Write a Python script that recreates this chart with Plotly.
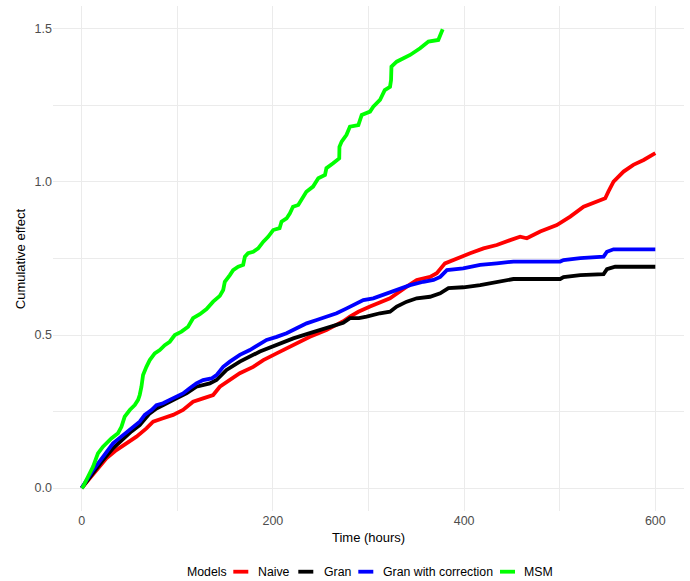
import plotly.graph_objects as go

# ---------------- data ----------------
naive_t = [0, 15.4, 25.9, 36.3, 46.8, 57.3, 67.7, 74.7, 85.1, 95.6, 106, 116.5, 127, 137.5, 144.5,
           151.5, 165.4, 179.4, 190, 203.9, 221.3, 238.7, 256, 259.7, 273.6, 280.6, 289.4, 301.6,
           322.5, 340, 350.5, 364.4, 371.4, 380, 392.4, 406.3, 420.3, 434.2, 448.2, 458.6, 465.6,
           479.6, 497, 511, 525, 539, 547.6, 551, 556.3, 566.8, 577, 587.8, 600]
naive_y = [0, 0.059, 0.097, 0.124, 0.146, 0.168, 0.195, 0.217, 0.228, 0.239, 0.255, 0.282, 0.293,
           0.304, 0.331, 0.347, 0.375, 0.396, 0.418, 0.44, 0.467, 0.494, 0.516, 0.522, 0.545, 0.56,
           0.576, 0.593, 0.62, 0.658, 0.68, 0.69, 0.702, 0.734, 0.751, 0.767, 0.783, 0.794, 0.81,
           0.821, 0.816, 0.838, 0.859, 0.887, 0.919, 0.936, 0.947, 0.969, 1.001, 1.034, 1.056,
           1.072, 1.094]

gran_t = [0, 11.9, 22.3, 32.8, 43.3, 52, 60.7, 71.2, 78.2, 85.1, 99.2, 110, 120, 134, 141, 151.5,
          165.4, 186.4, 203.9, 221.3, 238.7, 259.7, 273.6, 280.6, 290, 298, 312, 322.5, 329.5, 340,
          350.5, 364.4, 375, 383.6, 399.3, 416.8, 434.2, 451.6, 500.5, 504, 521.5, 545.9, 549.4,
          558, 600]
gran_y = [0, 0.05, 0.092, 0.13, 0.162, 0.185, 0.206, 0.244, 0.26, 0.27, 0.293, 0.31, 0.331, 0.342,
          0.353, 0.386, 0.413, 0.446, 0.467, 0.489, 0.506, 0.528, 0.54, 0.555, 0.555, 0.56, 0.571,
          0.576, 0.593, 0.609, 0.62, 0.625, 0.636, 0.653, 0.656, 0.663, 0.674, 0.683, 0.683, 0.689,
          0.696, 0.699, 0.715, 0.723, 0.723]

granc_t = [0, 11.9, 22.3, 32.8, 43.3, 52, 60.7, 66, 73, 78.2, 85.1, 92.1, 99.2, 106, 113, 120, 127,
           135.8, 141, 148, 155, 165.4, 175.9, 186.4, 193.4, 203.9, 214.3, 224.8, 235.3, 245.8,
           256.2, 266.7, 277.2, 289.4, 294.6, 305, 315.5, 329.5, 343.5, 357.4, 368, 375, 382, 399,
           416.8, 434.2, 451.6, 500.5, 504, 521.5, 545.9, 549.4, 556.3, 600]
granc_y = [0, 0.059, 0.102, 0.146, 0.173, 0.195, 0.217, 0.239, 0.255, 0.271, 0.277, 0.288, 0.298,
           0.309, 0.326, 0.342, 0.353, 0.358, 0.369, 0.396, 0.413, 0.435, 0.451, 0.473, 0.484,
           0.494, 0.506, 0.522, 0.538, 0.549, 0.56, 0.571, 0.587, 0.606, 0.614, 0.62, 0.631, 0.647,
           0.663, 0.674, 0.68, 0.69, 0.712, 0.718, 0.729, 0.734, 0.74, 0.74, 0.745, 0.751, 0.756,
           0.772, 0.78, 0.78]

msm_t = [0, 1.4, 6.6, 11.9, 17, 22.3, 31, 38, 41.6, 45, 50.3, 55.5, 59, 60.7, 62.5, 64.2, 67.7,
         71.2, 76.4, 81.7, 86.9, 92.1, 97.4, 104.4, 111.3, 116.5, 123.6, 130.6, 137.5, 144.5, 148,
         149.7, 155, 158.4, 163.7, 168.9, 170.7, 174, 179.4, 184.6, 190, 195, 200.3, 207, 209,
         214.3, 217.8, 221, 226.5, 230, 235, 242, 247.5, 254.5, 256, 263, 269.4, 269.6, 271.9,
         277, 280.6, 289.4, 292.9, 301.6, 305, 312, 317, 322.5, 323.6, 324, 329.5, 343.5, 354,
         362.7, 373, 377.6]
msm_y = [0, 0.004, 0.037, 0.07, 0.113, 0.135, 0.162, 0.179, 0.2, 0.233, 0.255, 0.271, 0.288, 0.304,
         0.331, 0.369, 0.396, 0.418, 0.44, 0.451, 0.467, 0.478, 0.5, 0.511, 0.527, 0.555, 0.568,
         0.585, 0.609, 0.628, 0.647, 0.674, 0.696, 0.712, 0.723, 0.729, 0.756, 0.767, 0.772, 0.783,
         0.805, 0.821, 0.843, 0.849, 0.87, 0.881, 0.898, 0.919, 0.925, 0.941, 0.968, 0.985, 1.012,
         1.023, 1.045, 1.061, 1.077, 1.115, 1.132, 1.154, 1.181, 1.186, 1.219, 1.23, 1.246, 1.268,
         1.30, 1.311, 1.333, 1.377, 1.393, 1.415, 1.437, 1.459, 1.464, 1.499]

model_names = ["Naive", "Gran", "Gran with correction", "MSM"]
model_colors = ["#FF0000", "#000000", "#0000FF", "#00FF00"]
x_ticks = [0, 200, 400, 600]
y_ticks = [0.0, 0.5, 1.0, 1.5]
y_tick_labels = ["0.0", "0.5", "1.0", "1.5"]

series = [(naive_t, naive_y), (gran_t, gran_y), (granc_t, granc_y), (msm_t, msm_y)]

# ---------------- figure ----------------
W, H = 690, 581
L, R, T, B = 53, 6, 6, 70
FONT = "Liberation Sans, Arial, sans-serif"

fig = go.Figure()
for (t, y), name, col in zip(series, model_names, model_colors):
    fig.add_trace(go.Scatter(x=t, y=y, mode="lines", name=name,
                             line=dict(color=col, width=3.8), showlegend=False))

grid = "#EBEBEB"
fig.update_layout(
    width=W, height=H,
    margin=dict(l=L, r=R, t=T, b=B, pad=0),
    paper_bgcolor="white", plot_bgcolor="white",
    font=dict(family=FONT, size=12.5, color="#4D4D4D"),
    showlegend=False,
    xaxis=dict(range=[-30, 630], tickvals=x_ticks, ticktext=[str(v) for v in x_ticks],
               showgrid=True, gridcolor=grid, gridwidth=1.1, zeroline=False, showline=False,
               ticks="", tickfont=dict(size=12.5, color="#4D4D4D"),
               minor=dict(tickvals=[100, 300, 500], showgrid=True, gridcolor=grid, gridwidth=0.6)),
    yaxis=dict(range=[-0.075, 1.575], tickvals=y_ticks, ticktext=y_tick_labels,
               showgrid=True, gridcolor=grid, gridwidth=1.1, zeroline=False, showline=False,
               ticks="", tickfont=dict(size=12.5, color="#4D4D4D"),
               minor=dict(tickvals=[0.25, 0.75, 1.25], showgrid=True, gridcolor=grid, gridwidth=0.6)),
)

pw, ph = W - L - R, H - T - B


def px2paper(px, py):
    return (px - L) / pw, (H - B - py) / ph


annotations = []
shapes = []

# axis titles
ax, ay = px2paper(368.5, 537.5)
annotations.append(dict(text="Time (hours)", x=ax, y=ay, xref="paper", yref="paper",
                        xanchor="center", yanchor="middle", showarrow=False,
                        font=dict(size=13, color="#000000", family=FONT)))
ax, ay = px2paper(20.7, 258.5)
annotations.append(dict(text="Cumulative effect", x=ax, y=ay, xref="paper", yref="paper",
                        xanchor="center", yanchor="middle", showarrow=False, textangle=-90,
                        font=dict(size=13, color="#000000", family=FONT)))

# legend (manual, ggplot-style bottom legend)
leg_y = 571.7
tx, ty = px2paper(184.5, leg_y)
annotations.append(dict(text="Models", x=tx, y=ty, xref="paper", yref="paper",
                        xanchor="left", yanchor="middle", showarrow=False,
                        font=dict(size=12.3, color="#000000", family=FONT)))
key_x = [233.3, 298.3, 358.3, 500]
text_x = [256, 321.5, 380.5, 522.3]
for kx, txx, name, col in zip(key_x, text_x, model_names, model_colors):
    x0, y0 = px2paper(kx, leg_y)
    x1, _ = px2paper(kx + 15, leg_y)
    shapes.append(dict(type="line", xref="paper", yref="paper", x0=x0, x1=x1, y0=y0, y1=y0,
                       line=dict(color=col, width=3.8)))
    tx, ty = px2paper(txx, leg_y)
    annotations.append(dict(text=name, x=tx, y=ty, xref="paper", yref="paper",
                            xanchor="left", yanchor="middle", showarrow=False,
                            font=dict(size=12.3, color="#000000", family=FONT)))

fig.update_layout(annotations=annotations, shapes=shapes)
fig.write_html("out.html", config={"displayModeBar": False},
               post_script="document.body.style.margin='0';document.body.style.overflow='hidden';")
